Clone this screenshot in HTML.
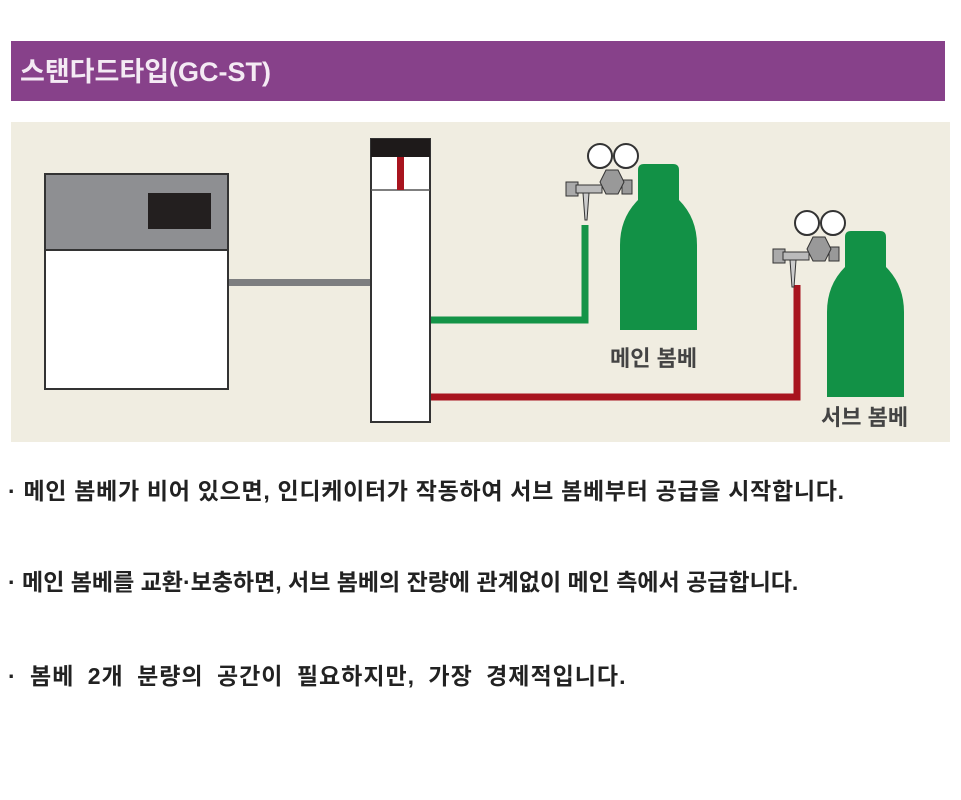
<!DOCTYPE html>
<html><head><meta charset="utf-8"><style>
body{margin:0;width:961px;height:800px;background:#fff;position:relative;overflow:hidden;font-family:"Liberation Sans","Noto Sans CJK KR",sans-serif}
.t{position:absolute;left:8px;font-size:23px;font-weight:bold;color:#222;white-space:nowrap}
</style></head><body>
<div style="position:absolute;left:11px;top:41px;width:934px;height:60px;background:#87418a"></div>
<div style="position:absolute;left:20px;top:50px;color:#f4eaf4;font-size:27px;font-weight:bold">스탠다드타입(GC-ST)</div>
<div style="position:absolute;left:11px;top:122px;width:939px;height:320px;background:#f0ede1"></div>
<svg style="position:absolute;left:0;top:0" width="961" height="460">
<rect x="45" y="174" width="183" height="215" fill="#fff" stroke="#333" stroke-width="2"/>
<rect x="45" y="174" width="183" height="76" fill="#8e8f92" stroke="#333" stroke-width="2"/>
<rect x="148" y="193" width="63" height="36" fill="#231f1f"/>
<rect x="229" y="279" width="142" height="7" fill="#7d7e80"/>
<rect x="371" y="139" width="59" height="283" fill="#fff" stroke="#333" stroke-width="2"/>
<rect x="371" y="139" width="59" height="18" fill="#1e1a1a"/>
<line x1="371" y1="190" x2="430" y2="190" stroke="#555" stroke-width="1.5"/>
<rect x="397" y="157" width="7" height="33" fill="#a8141e"/>
<path d="M431 320 H585 V225" fill="none" stroke="#149447" stroke-width="7"/>
<path d="M431 397 H797 V285" fill="none" stroke="#a8141e" stroke-width="7"/>
<g id="cyl">
<path d="M644 164 H673 Q679 164 679 170 V200 Q697 218 697 245 V330 H620 V245 Q620 218 638 200 V170 Q638 164 644 164Z" fill="#129146"/>
<circle cx="600" cy="156" r="12" fill="#fff" stroke="#333" stroke-width="2"/>
<circle cx="626" cy="156" r="12" fill="#fff" stroke="#333" stroke-width="2"/>
<rect x="622" y="180" width="10" height="14" fill="#999" stroke="#333"/>
<rect x="566" y="182" width="12" height="14" fill="#aaa" stroke="#333"/>
<rect x="576" y="185" width="26" height="8" fill="#bbb" stroke="#333"/>
<path d="M583 193 L589 193 L587 220 L585 220Z" fill="#ccc" stroke="#333"/>
<polygon points="606,170 618,170 624,182 618,194 606,194 600,182" fill="#999" stroke="#333"/>
</g>
<use href="#cyl" transform="translate(207,67)"/>
</svg>
<div style="position:absolute;left:610px;top:341px;font-size:22px;font-weight:bold;color:#444">메인 봄베</div>
<div style="position:absolute;left:821px;top:400px;font-size:22px;font-weight:bold;color:#444">서브 봄베</div>
<div class="t" style="top:472px;letter-spacing:0.7px">· 메인 봄베가 비어 있으면, 인디케이터가 작동하여 서브 봄베부터 공급을 시작합니다.</div>
<div class="t" style="top:563px">· 메인 봄베를 교환·보충하면, 서브 봄베의 잔량에 관계없이 메인 측에서 공급합니다.</div>
<div class="t" style="top:657px;letter-spacing:1px;word-spacing:6px">·&nbsp;봄베 2개 분량의 공간이 필요하지만, 가장 경제적입니다.</div>
</body></html>
